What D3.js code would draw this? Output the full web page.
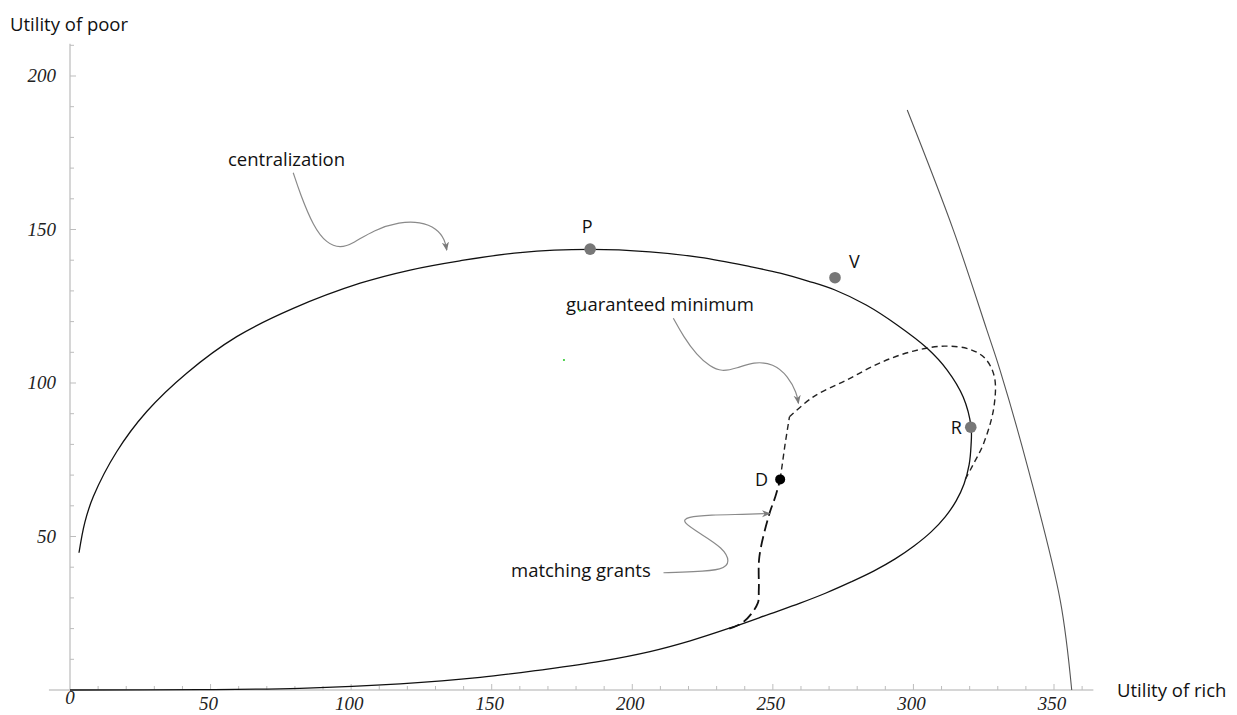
<!DOCTYPE html>
<html><head><meta charset="utf-8">
<script src="https://cdn.jsdelivr.net/npm/d3@7"></script>
<style>
html,body{margin:0;padding:0;background:#fff;}
svg{display:block;}
.tick-label{font-family:"Liberation Serif",serif;font-style:italic;font-size:19px;fill:#222;}
.lbl{font-family:"Open Sans","Noto Sans",sans-serif;font-size:18.5px;fill:#111;}
</style>
</head><body>
<svg id="chart" width="1237" height="715"></svg>
<script>
// ---------- data ----------
const xMajorTicks = [0, 50, 100, 150, 200, 250, 300, 350];
const yMajorTicks = [50, 100, 150, 200];
const xTickLabels = ["0", "50", "100", "150", "200", "250", "300", "350"];
const yTickLabels = ["50", "100", "150", "200"];

// centralization frontier (utility of rich, utility of poor)
const centralX = [3.2, 5.3, 8.3, 16.6, 27.3, 41.5, 59.3, 79.4, 103.2, 121.0, 138.7, 160.1, 185.0, 206.3, 224.1, 241.9, 252.6, 262.5, 272.1, 283.2, 294.2, 304.9, 312.0, 317.7, 320.5,
  320.5, 319.8, 318.0, 315.2, 311.3, 306.3, 300.2, 293.5, 286.0, 277.8, 268.9, 259.7, 249.0, 234.8, 220.6, 206.3, 188.5, 167.2, 145.9, 117.4, 81.8, 46.2, 0];
const centralY = [44.7, 54.7, 63.0, 77.6, 90.7, 103.2, 115.1, 124.3, 132.5, 136.8, 139.8, 142.5, 143.5, 142.7, 140.9, 137.9, 135.8, 133.2, 130.3, 125.4, 118.9, 111.3, 104.2, 95.4, 85.7,
  79.8, 73.3, 67.1, 61.6, 56.4, 51.5, 46.9, 42.7, 38.8, 35.2, 31.6, 28.3, 24.8, 20.2, 16.0, 12.5, 9.3, 6.5, 4.1, 2.0, 0.55, 0.1, 0];

// guaranteed minimum (short dashes), from D up to the kink and around
const guarX = [252.6, 254.4, 255.9, 264.4, 276.3, 288.2, 300, 311, 320, 325.5, 328.8, 328.6, 325, 321, 318.2];
const guarY = [68.6, 80.4, 89.0, 95.5, 101, 106.6, 110.4, 112, 111, 108, 102, 92, 80.4, 73.0, 68.2];

// matching grants (long dashes), from the frontier up to D
const matchX = [234.5, 239.6, 244.6, 245, 245.2, 248.8, 250.9, 252.6];
const matchY = [20.0, 22.2, 28.2, 32.6, 43.4, 57.5, 63, 68.6];

// outer possibility line
const outerX = [297.8, 314.2, 326.1, 330.8, 340.9, 352.2, 356.3];
const outerY = [188.9, 149.8, 117.3, 104.2, 71.7, 29.3, 0];

// labelled points
const pointNames = ["P", "V", "R", "D"];
const pointX = [185, 272.1, 320.4, 252.6];
const pointY = [143.6, 134.3, 85.6, 68.6];

// stray green specks
const speckX = [181.4, 175.7];
const speckY = [123.5, 107.5];

// annotation arrows (data coordinates)
const arrowCentralX = [79.4, 81.8, 86.6, 91.3, 96.1, 100.8, 107.9, 117.4, 124.5, 130.5, 133.4, 134.0];
const arrowCentralY = [168.5, 161.8, 150.9, 145.5, 143.9, 145.5, 149.8, 152.5, 152.5, 150.4, 146.6, 143.3];
const arrowGuarX = [214.6, 218.2, 222.9, 227.7, 231.8, 237.2, 243.1, 250.2, 255.5, 258.5, 259.1];
const arrowGuarY = [121.1, 115.1, 109.1, 105.3, 103.7, 104.8, 106.9, 106.4, 102.1, 96.7, 93.4];
const arrowMatchX = [211.1, 221.7, 232.4, 234.8, 232.4, 224.1, 217.6, 219.4, 227.7, 239.5, 249.0];
const arrowMatchY = [38.2, 38.5, 39.1, 41.8, 46.2, 51.0, 54.8, 56.4, 57.0, 57.2, 57.5];

// ---------- drawing ----------
const svg = d3.select("#chart");
const x = d3.scaleLinear().domain([0, 350]).range([70, 1054]);
const y = d3.scaleLinear().domain([0, 200]).range([690, 76]);

const zip = (xs, ys) => xs.map((v, i) => [v, ys[i]]);
const line = d3.line().x(d => x(d[0])).y(d => y(d[1])).curve(d3.curveCatmullRom.alpha(0.5));

// arrow marker
const defs = svg.append("defs");
defs.append("marker").attr("id", "ah").attr("viewBox", "0 0 10 10")
  .attr("refX", 9).attr("refY", 5).attr("markerWidth", 9).attr("markerHeight", 9)
  .attr("markerUnits", "userSpaceOnUse").attr("orient", "auto")
  .append("path").attr("d", "M0,1 L10,5 L0,9 L3,5 Z").attr("fill", "#7a7a7a");

// axes
const axisColor = "#c9c9c9";
const g = svg.append("g");
g.append("line").attr("x1", x(-7.5)).attr("x2", x(364)).attr("y1", y(0)).attr("y2", y(0))
  .attr("stroke", axisColor).attr("stroke-width", 1.5);
g.append("line").attr("x1", x(0)).attr("x2", x(0)).attr("y1", y(0)).attr("y2", y(210.5))
  .attr("stroke", axisColor).attr("stroke-width", 1.5);

const xMinor = d3.range(10, 361, 10);
g.selectAll(".xt").data(xMinor).join("line")
  .attr("x1", d => x(d)).attr("x2", d => x(d))
  .attr("y1", y(0)).attr("y2", d => y(0) - (d % 50 === 0 ? 6 : 4))
  .attr("stroke", "#bdbdbd").attr("stroke-width", 1);
const yMinor = d3.range(10, 211, 10);
g.selectAll(".yt").data(yMinor).join("line")
  .attr("y1", d => y(d)).attr("y2", d => y(d))
  .attr("x1", x(0)).attr("x2", d => x(0) + (d % 50 === 0 ? 6 : 4))
  .attr("stroke", "#bdbdbd").attr("stroke-width", 1);

g.selectAll(".xl").data(xMajorTicks.slice(1)).join("text")
  .attr("class", "tick-label").attr("x", d => x(d) - 2).attr("y", y(0) + 20)
  .attr("text-anchor", "middle").text((d, i) => xTickLabels[i + 1]);
g.append("text").attr("class", "tick-label").attr("x", x(0)).attr("y", y(0) + 14)
  .attr("text-anchor", "middle").text(xTickLabels[0]);
g.selectAll(".yl").data(yMajorTicks).join("text")
  .attr("class", "tick-label").attr("x", x(0) - 14).attr("y", d => y(d) + 6)
  .attr("text-anchor", "end").text((d, i) => yTickLabels[i]);

svg.append("text").attr("class", "lbl").attr("x", 10).attr("y", 31).text("Utility of poor");
svg.append("text").attr("class", "lbl").attr("x", 1117).attr("y", 697).text("Utility of rich");

// outer possibility curve
svg.append("path").attr("d", line(zip(outerX, outerY)))
  .attr("fill", "none").attr("stroke", "#555").attr("stroke-width", 1.1);

// centralization frontier
svg.append("path").attr("d", line(zip(centralX, centralY)))
  .attr("fill", "none").attr("stroke", "#111").attr("stroke-width", 1.3);

// guaranteed minimum
svg.append("path").attr("d", d3.line().x(d => x(d[0])).y(d => y(d[1]))(zip(guarX, guarY).slice(0, 3)))
  .attr("fill", "none").attr("stroke", "#222").attr("stroke-width", 1.4).attr("stroke-dasharray", "6,4");
svg.append("path").attr("d", line(zip(guarX, guarY).slice(2)))
  .attr("fill", "none").attr("stroke", "#222").attr("stroke-width", 1.4).attr("stroke-dasharray", "6,4");

// matching grants
svg.append("path").attr("d", line(zip(matchX, matchY)))
  .attr("fill", "none").attr("stroke", "#111").attr("stroke-width", 1.8).attr("stroke-dasharray", "11,5");

// annotation arrows
const arrowLine = d3.line().x(d => x(d[0])).y(d => y(d[1])).curve(d3.curveBasis);
[[arrowCentralX, arrowCentralY], [arrowGuarX, arrowGuarY], [arrowMatchX, arrowMatchY]].forEach(([ax, ay]) => {
  svg.append("path").attr("d", arrowLine(zip(ax, ay)))
    .attr("fill", "none").attr("stroke", "#8a8a8a").attr("stroke-width", 1.2)
    .attr("marker-end", "url(#ah)");
});

// annotation texts
svg.append("text").attr("class", "lbl").attr("x", 228).attr("y", 166).text("centralization");
svg.append("text").attr("class", "lbl").attr("x", 566).attr("y", 311).text("guaranteed minimum");
svg.append("text").attr("class", "lbl").attr("x", 511).attr("y", 577).text("matching grants");

// specks
svg.selectAll(".sp").data(zip(speckX, speckY)).join("circle")
  .attr("cx", d => x(d[0])).attr("cy", d => y(d[1])).attr("r", 1.1).attr("fill", "#3c3");

// points
const pts = pointNames.map((n, i) => ({ n, x: pointX[i], y: pointY[i] }));
svg.selectAll(".pt").data(pts).join("circle")
  .attr("cx", d => x(d.x)).attr("cy", d => y(d.y))
  .attr("r", d => d.n === "D" ? 5 : 5.8)
  .attr("fill", d => d.n === "D" ? "#000" : "#777");

const lblOff = { P: [-3, -16, "middle"], V: [14, -10, "start"], R: [-9, 7, "end"], D: [-12, 7, "end"] };
svg.selectAll(".pl").data(pts).join("text").attr("class", "lbl")
  .attr("x", d => x(d.x) + lblOff[d.n][0]).attr("y", d => y(d.y) + lblOff[d.n][1])
  .attr("text-anchor", d => lblOff[d.n][2]).style("font-size", "18px").text(d => d.n);
</script>
</body></html>
